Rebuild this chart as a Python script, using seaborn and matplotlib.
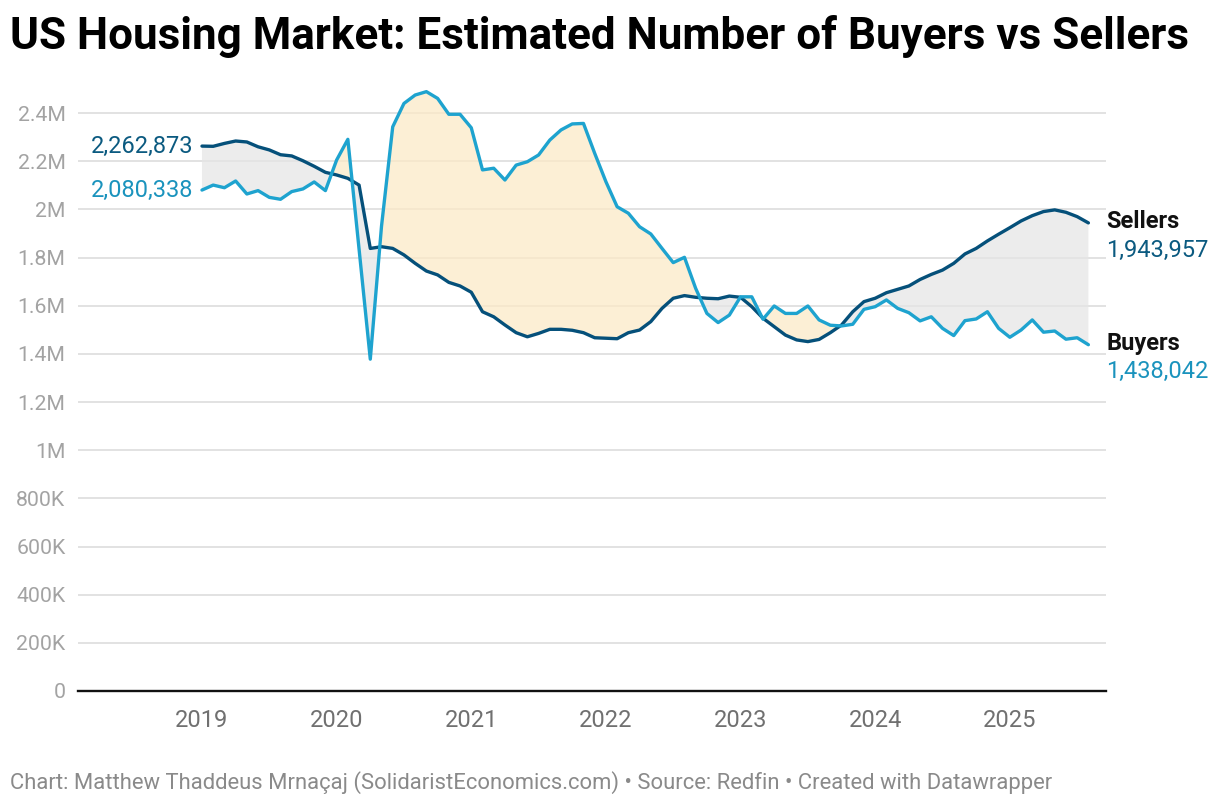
import numpy as np
import pandas as pd
import matplotlib
matplotlib.use("Agg")
import matplotlib.pyplot as plt
import matplotlib.ticker as mticker
import seaborn as sns

# Monthly estimates, Jan 2019 - Aug 2025 (in millions)
sellers = [
    2.263, 2.262, 2.274, 2.284, 2.280, 2.260, 2.247, 2.227, 2.222, 2.202, 2.179, 2.154,
    2.143, 2.129, 2.101, 1.838, 1.845, 1.838, 1.811, 1.776, 1.744, 1.728, 1.697, 1.682,
    1.656, 1.575, 1.554, 1.520, 1.488, 1.471, 1.485, 1.502, 1.502, 1.498, 1.488, 1.467,
    1.465, 1.463, 1.488, 1.499, 1.534, 1.589, 1.631, 1.642, 1.635, 1.631, 1.629, 1.640,
    1.635, 1.596, 1.548, 1.513, 1.478, 1.458, 1.451, 1.460, 1.488, 1.520, 1.575, 1.617,
    1.631, 1.654, 1.668, 1.682, 1.709, 1.730, 1.748, 1.776, 1.815, 1.838, 1.869, 1.897,
    1.924, 1.952, 1.974, 1.991, 1.998, 1.988, 1.970, 1.944,
]
buyers = [
    2.080, 2.101, 2.090, 2.118, 2.064, 2.078, 2.050, 2.042, 2.074, 2.085, 2.114, 2.078,
    2.205, 2.291, 1.835, 1.378, 1.930, 2.343, 2.440, 2.475, 2.489, 2.461, 2.395, 2.395,
    2.339, 2.164, 2.171, 2.122, 2.184, 2.198, 2.226, 2.288, 2.330, 2.355, 2.357, 2.233,
    2.115, 2.011, 1.984, 1.928, 1.898, 1.838, 1.779, 1.801, 1.672, 1.568, 1.530, 1.561,
    1.637, 1.637, 1.544, 1.599, 1.568, 1.568, 1.599, 1.541, 1.519, 1.516, 1.523, 1.585,
    1.596, 1.624, 1.589, 1.571, 1.537, 1.554, 1.506, 1.476, 1.538, 1.545, 1.575, 1.506,
    1.469, 1.499, 1.541, 1.490, 1.495, 1.461, 1.467, 1.438,
]
sellers = np.array(sellers) * 1e6
sellers[0], sellers[-1] = 2262873, 1943957
buyers = np.array(buyers) * 1e6
buyers[0], buyers[-1] = 2080338, 1438042

years = [2019, 2020, 2021, 2022, 2023, 2024, 2025]
y_ticks = np.arange(0, 2.41e6, 2e5)

x = 2019 + np.arange(len(sellers)) / 12.0

df = pd.DataFrame({
    "date": np.concatenate([x, x]),
    "value": np.concatenate([sellers, buyers]),
    "series": ["Sellers"] * len(x) + ["Buyers"] * len(x),
})

SELLER_C = "#05507a"
BUYER_C = "#1ea3cf"


def fmt_y(v, pos=None):
    if v == 0:
        return "0"
    if v < 1e6:
        return f"{v / 1e3:.0f}K"
    s = f"{v / 1e6:.1f}".rstrip("0").rstrip(".")
    return s + "M"


sns.set_theme(style="white")
plt.rcParams["font.family"] = ["Roboto", "DejaVu Sans"]

fig = plt.figure(figsize=(12.2, 8.08), dpi=100)
ax = fig.add_axes([78 / 1220, 1 - 691 / 808, (1106 - 78) / 1220, (691 - 89) / 808])

# shaded gaps
ax.fill_between(x, sellers, buyers, where=buyers >= sellers, interpolate=True,
                color="#fceac7", alpha=0.75, lw=0, zorder=2)
ax.fill_between(x, sellers, buyers, where=sellers >= buyers, interpolate=True,
                color="#e6e6e6", alpha=0.75, lw=0, zorder=2)

sns.lineplot(data=df, x="date", y="value", hue="series",
             palette={"Sellers": SELLER_C, "Buyers": BUYER_C},
             linewidth=2.4, legend=False, ax=ax, zorder=3,
             solid_joinstyle="round", solid_capstyle="round")

ax.set_xlim(2019 - 11.05 / 12, 2019 + 80.57 / 12)
ax.set_ylim(0, 2.5e6)
ax.set_xlabel("")
ax.set_ylabel("")

ax.set_yticks(y_ticks)
ax.yaxis.set_major_formatter(mticker.FuncFormatter(fmt_y))
ax.set_xticks(years)
ax.set_xticklabels([str(y) for y in years])
ax.grid(axis="y", color="#e2e2e2", linewidth=1.4, zorder=1)
ax.set_axisbelow(True)
ax.tick_params(axis="y", length=0, pad=9, labelsize=15.3, labelcolor="#a3a3a3")
ax.tick_params(axis="x", length=0, pad=13, labelsize=17, labelcolor="#707070")

for side in ["top", "right", "left"]:
    ax.spines[side].set_visible(False)
ax.spines["bottom"].set_color("#111111")
ax.spines["bottom"].set_linewidth(1.7)
ax.spines["bottom"].set_zorder(4)

# value labels
ax.text(x[0] - 0.065, sellers[0], f"{sellers[0]:,.0f}", ha="right", va="center",
        fontsize=17, color="#0b5a80")
ax.text(x[0] - 0.065, buyers[0], f"{buyers[0]:,.0f}", ha="right", va="center",
        fontsize=17, color="#1a93bd")
xe = x[-1] + 0.135
ax.text(xe, sellers[-1] + 0.004e6, "Sellers", ha="left", va="center",
        fontsize=17, fontweight="bold", color="#111111", clip_on=False)
ax.text(xe, sellers[-1] - 0.113e6, f"{sellers[-1]:,.0f}", ha="left", va="center",
        fontsize=17, color="#0b5a80", clip_on=False)
ax.text(xe, buyers[-1] + 0.003e6, "Buyers", ha="left", va="center",
        fontsize=17, fontweight="bold", color="#111111", clip_on=False)
ax.text(xe, buyers[-1] - 0.113e6, f"{buyers[-1]:,.0f}", ha="left", va="center",
        fontsize=17, color="#1a93bd", clip_on=False)

fig.text(10 / 1220, 1 - 36 / 808, "US Housing Market: Estimated Number of Buyers vs Sellers",
         ha="left", va="center", fontsize=31.7, fontweight="bold", color="#000000")
fig.text(10 / 1220, 1 - 783 / 808,
         "Chart: Matthew Thaddeus Mrnaçaj (SolidaristEconomics.com) \u2022 Source: Redfin \u2022 Created with Datawrapper",
         ha="left", va="center", fontsize=15.8, color="#8a8a8a")

fig.savefig("out.png", dpi=100)
